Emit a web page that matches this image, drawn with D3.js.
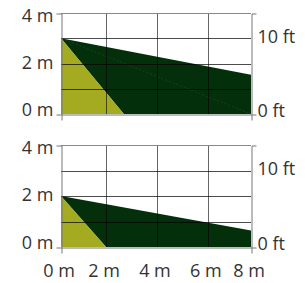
<!DOCTYPE html>
<html><head><meta charset="utf-8">
<script src="https://cdn.jsdelivr.net/npm/d3@7"></script>
<style>
body{margin:0;background:#fff}
svg{display:block}
text{font-family:"Open Sans",sans-serif;font-size:18px;fill:#333}
</style>
</head><body><svg id="c" width="305" height="283"></svg>
<script>
// ---- data ----
const xTicks = [0, 2, 4, 6, 8];
const xTickLabels = ["0 m", "2 m", "4 m", "6 m", "8 m"];
const yTicks = [0, 2, 4];
const yTickLabels = ["0 m", "2 m", "4 m"];
const ftTicks = [0, 10];
const ftTickLabels = ["0 ft", "10 ft"];
const gridX = [2, 4, 6];
const gridY = [1, 2, 3];
const mountHeight = [3, 2];        // camera height (m) per panel
const farEdgeHeight = [1.55, 0.65]; // upper FOV edge height at 8 m
const nearGround = [2.7, 2.0];      // where lower FOV edge meets ground (m)
const showSeam = [true, false];
const maxDistance = 8;
const maxHeight = 4;
const mPerFt = 0.3048;

// ---- layout ----
const svg = d3.select("#c");
const left = 61, right = 251;
const panels = [{top: 13, bottom: 114}, {top: 145, bottom: 247}];
const xStops = [0, 0.237, 0.505, 0.773, 1];
const x = d3.scaleLinear().domain(xTicks).range(xStops.map(f => left + f * (right - left)));

const yellow = "#a4ab21", green = "#03300a";
const FONT = '"Open Sans", sans-serif';

panels.forEach((p, i) => {
  const g = svg.append("g");
  const y = d3.scaleLinear().domain([0, maxHeight]).range([p.bottom, p.top]);
  // label placement scale (labels sit slightly off their ticks in the reference)
  const yLab = d3.scaleLinear().domain([0, maxHeight]).range([p.bottom - 5, p.top + 2]);
  const yFt = d3.scaleLinear().domain([0, maxHeight / mPerFt]).range([p.bottom, p.top]);
  const line = d3.line().x(d => x(d[0])).y(d => y(d[1]));

  const h = mountHeight[i], far = farEdgeHeight[i], near = nearGround[i];
  g.append("path").attr("d", line([[0, h], [maxDistance, far], [maxDistance, 0], [near, 0]]) + "Z")
    .attr("fill", green);
  g.append("path").attr("d", line([[0, h], [0, 0], [near, 0]]) + "Z")
    .attr("fill", yellow);
  if (showSeam[i]) {
    g.append("path").attr("d", line([[0, h], [maxDistance, 0]]))
      .attr("stroke", "rgba(255,255,255,0.08)").attr("stroke-dasharray", "2,2").attr("fill", "none");
  }

  // grid
  g.selectAll(".gx").data(gridX).join("line")
    .attr("x1", d => Math.round(x(d)) + 0.5).attr("x2", d => Math.round(x(d)) + 0.5)
    .attr("y1", p.top).attr("y2", p.bottom)
    .attr("stroke", "rgba(0,0,0,0.6)");
  g.selectAll(".gy").data(gridY).join("line")
    .attr("y1", d => Math.round(y(d)) + 0.5).attr("y2", d => Math.round(y(d)) + 0.5)
    .attr("x1", left).attr("x2", right)
    .attr("stroke", "rgba(0,0,0,0.7)");
  // top border
  g.append("line").attr("x1", left).attr("x2", right)
    .attr("y1", y(maxHeight) + 0.5).attr("y2", y(maxHeight) + 0.5)
    .attr("stroke", "#888");

  // axes
  const ax = g.append("g").attr("transform", `translate(${left + 0.5},0.5)`)
    .call(d3.axisLeft(y).tickValues(yTicks).tickFormat((d, k) => yTickLabels[k])
      .tickSizeInner(0).tickSizeOuter(5).tickPadding(8));
  ax.selectAll(".tick text").attr("y", d => yLab(d) - y(d));
  const axR = g.append("g").attr("transform", `translate(${right + 0.5},0.5)`)
    .call(d3.axisRight(yFt).tickValues(ftTicks).tickFormat((d, k) => ftTickLabels[k])
      .tickSizeInner(0).tickSizeOuter(5).tickPadding(6));
  axR.selectAll(".tick text").attr("y", d => (d === 0 ? -4 : -1));
  const last = i === panels.length - 1;
  const axB = g.append("g").attr("transform", `translate(0.5,${p.bottom + 0.5})`)
    .call(d3.axisBottom(x).tickValues(last ? xTicks : []).tickFormat((d, k) => xTickLabels[k])
      .tickSizeInner(0).tickSizeOuter(6).tickPadding(17));
  axB.selectAll("text").attr("dx", -3);
  [ax, axR, axB].forEach(a => {
    a.selectAll(".domain").attr("stroke", "#777");
    a.selectAll("text").attr("fill", "#333").style("font-size", "18px").style("font-family", FONT);
    a.attr("font-size", null).attr("font-family", null);
  });
});
</script>
</body></html>
